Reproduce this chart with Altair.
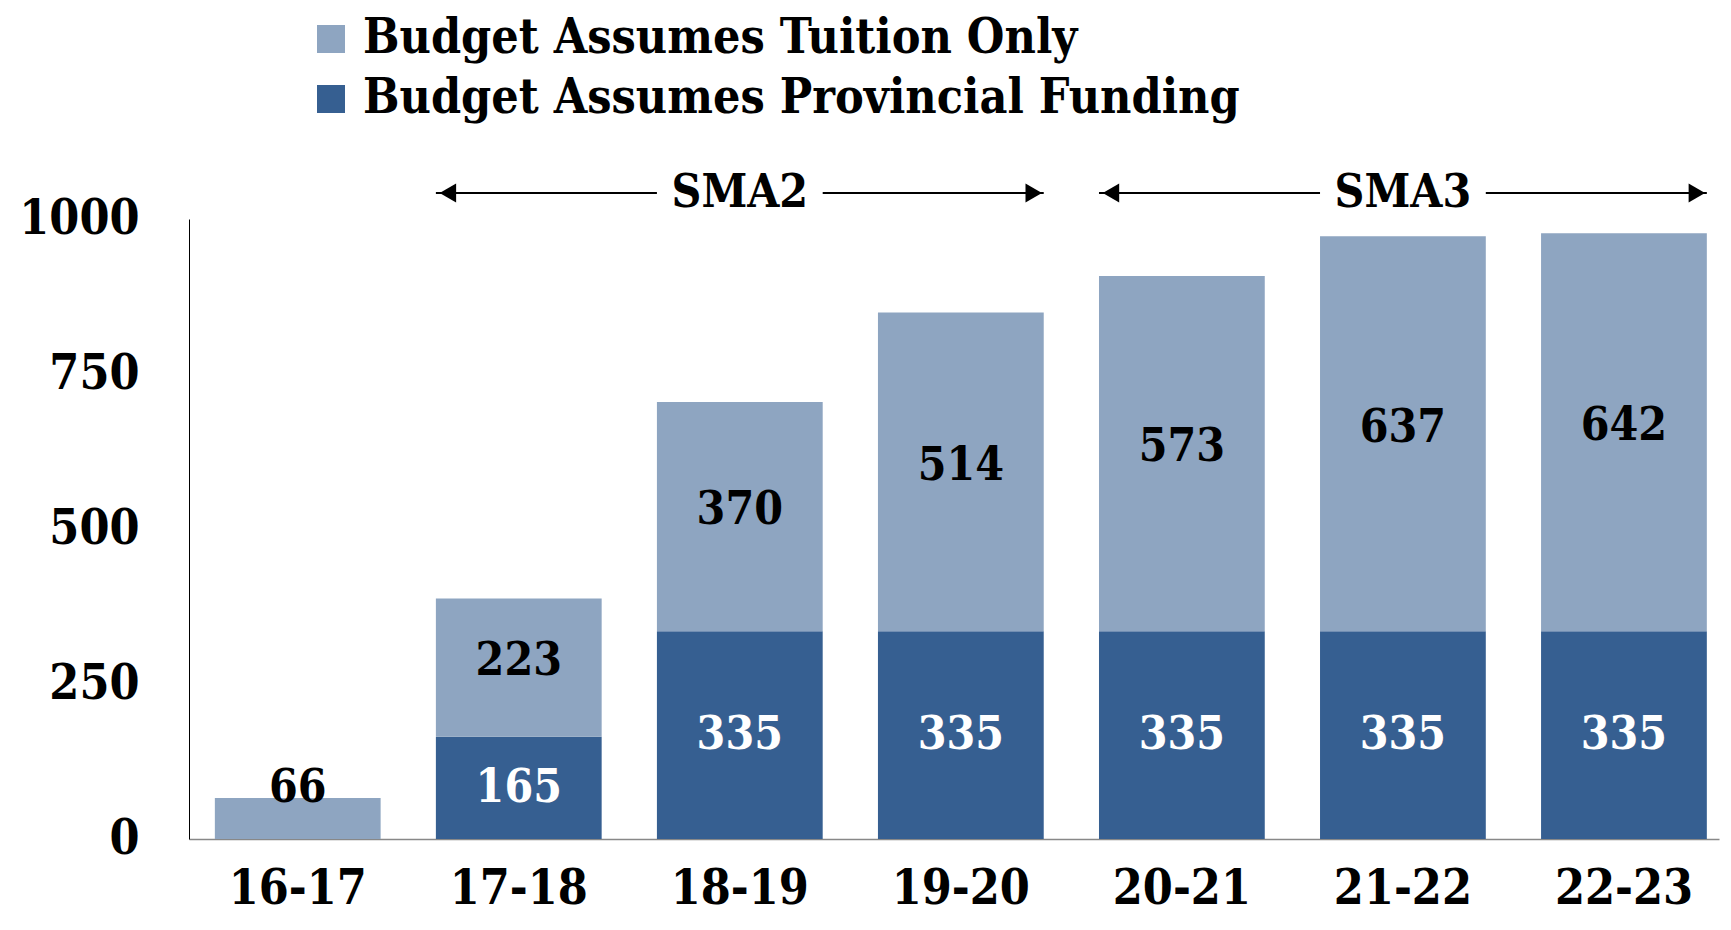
import altair as alt
import pandas as pd

years = ["16-17", "17-18", "18-19", "19-20", "20-21", "21-22", "22-23"]
provincial = [0, 165, 335, 335, 335, 335, 335]
tuition = [66, 223, 370, 514, 573, 637, 642]

series_tuition = "Budget Assumes Tuition Only"
series_prov = "Budget Assumes Provincial Funding"

sma_labels = ["SMA2", "SMA3"]
sma_start = ["17-18", "20-21"]
sma_mid = ["18-19", "21-22"]
sma_end = ["19-20", "22-23"]
sma_level = [1042, 1042]

FONT = "DejaVu Serif Condensed, DejaVu Serif, Liberation Serif"
LIGHT = "#8EA5C1"
DARK = "#365F91"

rows = []
for y, p, t in zip(years, provincial, tuition):
    rows.append({"year": y, "series": series_prov, "value": p, "order": 0})
    rows.append({"year": y, "series": series_tuition, "value": t, "order": 1})
df = pd.DataFrame(rows)

sma = pd.DataFrame({"label": sma_labels, "start": sma_start, "mid": sma_mid,
                    "end": sma_end, "level": sma_level})

xscale = alt.Scale(domain=years, paddingInner=0.25, paddingOuter=0.086, align=0.68)
yscale = alt.Scale(domain=[0, 1000], nice=False)

base = alt.Chart(df)

bars = base.mark_bar().encode(
    x=alt.X("year:N", scale=xscale, sort=years,
            axis=alt.Axis(title=None, labelAngle=0, ticks=False, labelFont=FONT,
                          labelFontSize=48, labelFontWeight="bold", labelColor="black",
                          labelPadding=26, domainColor="#888888", domainWidth=1.5)),
    y=alt.Y("value:Q", stack="zero", scale=yscale,
            axis=alt.Axis(title=None, values=[0, 250, 500, 750, 1000], format="d",
                          ticks=False, grid=False, labelFont=FONT, labelFontSize=48,
                          labelFontWeight="bold", labelColor="black", labelPadding=50,
                          domainColor="black", domainWidth=1)),
    color=alt.Color("series:N",
                    scale=alt.Scale(domain=[series_tuition, series_prov], range=[LIGHT, DARK]),
                    legend=alt.Legend(title=None, orient="none", legendX=118, legendY=-204,
                                      labelFont=FONT, labelFontSize=48, labelFontWeight="bold",
                                      labelColor="black", symbolType="square", symbolSize=784,
                                      symbolStrokeWidth=0, rowPadding=12, labelOffset=8,
                                      labelLimit=1200)),
    order=alt.Order("order:Q"),
)

labels = base.transform_filter("datum.value > 0").transform_stack(
    stack="value", groupby=["year"], as_=["v0", "v1"],
    sort=[alt.SortField("order", "ascending")]
).transform_calculate(
    mid="max((datum.v0 + datum.v1) / 2 + (datum.order == 1 ? 10 : 0), 82)",
    col="datum.order == 0 ? 'white' : 'black'"
).mark_text(font=FONT, fontSize=46, fontWeight="bold", baseline="middle").encode(
    x=alt.X("year:N", scale=xscale, sort=years),
    y=alt.Y("mid:Q", scale=yscale),
    text=alt.Text("value:Q"),
    color=alt.Color("col:N", scale=None),
)

sbase = alt.Chart(sma)
rule_left = sbase.mark_rule(color="black", strokeWidth=2).encode(
    x=alt.X("start:N", scale=xscale, bandPosition=0),
    x2=alt.X2("mid:N", bandPosition=0),
    y=alt.Y("level:Q", scale=yscale),
)
rule_right = sbase.mark_rule(color="black", strokeWidth=2).encode(
    x=alt.X("mid:N", scale=xscale, bandPosition=1),
    x2=alt.X2("end:N", bandPosition=1),
    y=alt.Y("level:Q", scale=yscale),
)
head_left = sbase.mark_point(shape="triangle-left", filled=True, color="black",
                             size=360, opacity=1, xOffset=12).encode(
    x=alt.X("start:N", scale=xscale, bandPosition=0),
    y=alt.Y("level:Q", scale=yscale),
)
head_right = sbase.mark_point(shape="triangle-right", filled=True, color="black",
                              size=360, opacity=1, xOffset=-10).encode(
    x=alt.X("end:N", scale=xscale, bandPosition=1),
    y=alt.Y("level:Q", scale=yscale),
)
sma_text = sbase.mark_text(font=FONT, fontSize=46, fontWeight="bold", baseline="middle",
                           color="black").encode(
    x=alt.X("mid:N", scale=xscale),
    y=alt.Y("level:Q", scale=yscale),
    text="label:N",
)

chart = alt.layer(bars, labels, rule_left, rule_right, head_left, head_right, sma_text).properties(
    width=1530, height=620,
    autosize=alt.AutoSizeParams(type="none"),
    padding={"left": 181, "top": 211, "right": 4, "bottom": 83},
).configure_view(stroke=None)

chart.save("out.html", embed_options={"renderer": "svg", "actions": False})
